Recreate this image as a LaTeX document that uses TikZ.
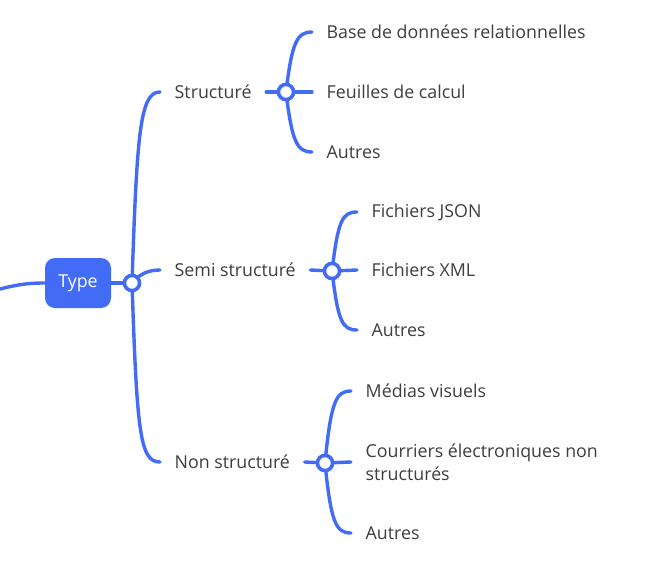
\documentclass[tikz,border=0pt]{standalone}
\usepackage{fontspec}
\setmainfont{Open Sans}
\definecolor{brand}{RGB}{66,108,246}
\definecolor{txt}{RGB}{62,62,66}
\begin{document}
\begin{tikzpicture}[x=1pt,y=-1pt,
  conn/.style={draw=brand,line width=3.4pt,line cap=round},
  hub/.style={circle,draw=brand,fill=white,line width=3.4pt,minimum size=15pt,inner sep=0pt},
  lbl/.style={anchor=west,inner xsep=14.5pt,inner ysep=2pt,text=txt,font=\fontsize{17.8}{23}\selectfont},
  root/.style={rounded corners=10pt,fill=brand,text=white,minimum width=66pt,minimum height=50pt,inner sep=0pt,font=\fontsize{17.8}{20}\selectfont}]
\path[use as bounding box] (0,0) rectangle (666,567);
\fill[white] (0,0) rectangle (666,567);

\coordinate (lft) at (0,289);
\node[root] (type) at (78,283) {Type};
\node[hub] (c0) at (132,283) {};

\node[lbl] (s1) at (160,92) {Structuré};
\node[lbl] (s2) at (160,270) {Semi structuré};
\node[lbl] (s3) at (160,462) {Non structuré};

\node[hub] (c1) at (286,92) {};
\node[hub] (c2) at (332,271) {};
\node[hub] (c3) at (325,463) {};

\node[lbl] (a1) at (312,32) {Base de données relationnelles};
\node[lbl] (a2) at (312,92) {Feuilles de calcul};
\node[lbl] (a3) at (312,152) {Autres};
\node[lbl] (b1) at (357,212) {Fichiers JSON};
\node[lbl] (b2) at (357,270) {Fichiers XML};
\node[lbl] (b3) at (357,330) {Autres};
\node[lbl] (d1) at (351,391) {Médias visuels};
\node[lbl,align=left] (d2) at (351,462) {Courriers électroniques non\\structurés};
\node[lbl] (d3) at (351,533) {Autres};

\draw[conn] (lft) .. controls +(20,-5) and +(-15,0) .. (type.west);
\draw[conn] (type.east) -- (c0.center);
\draw[conn] (c0.center) .. controls +(5,-150) and +(-20,0) .. (s1.west);
\draw[conn] (c0.center) .. controls +(8,-10) and +(-10,0) .. (s2.west);
\draw[conn] (c0.center) .. controls +(5,150) and +(-20,0) .. (s3.west);

\draw[conn] (s1.east) -- (c1.center);
\draw[conn] (c1.center) .. controls +(6,-50) and +(-15,0) .. (a1.west);
\draw[conn] (c1.center) -- (a2.west);
\draw[conn] (c1.center) .. controls +(6,50) and +(-15,0) .. (a3.west);

\draw[conn] (s2.east) -- (c2.center);
\draw[conn] (c2.center) .. controls +(6,-50) and +(-15,0) .. (b1.west);
\draw[conn] (c2.center) -- (b2.west);
\draw[conn] (c2.center) .. controls +(6,50) and +(-15,0) .. (b3.west);

\draw[conn] (s3.east) -- (c3.center);
\draw[conn] (c3.center) .. controls +(6,-62) and +(-15,0) .. (d1.west);
\draw[conn] (c3.center) -- (d2.west);
\draw[conn] (c3.center) .. controls +(6,60) and +(-15,0) .. (d3.west);

\node[hub] at (c0) {};
\node[hub] at (c1) {};
\node[hub] at (c2) {};
\node[hub] at (c3) {};
\end{tikzpicture}
\end{document}
